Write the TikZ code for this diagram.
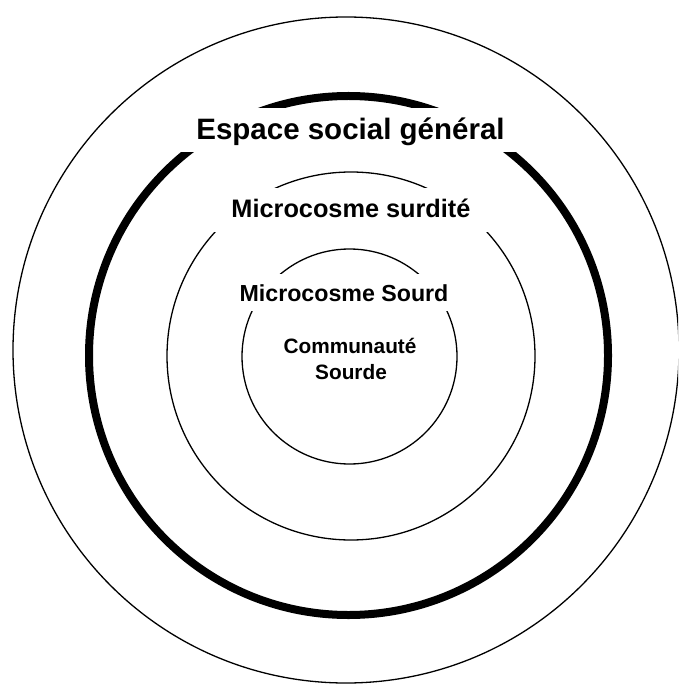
\documentclass[tikz,border=0pt]{standalone}
\usepackage{fontspec}
\setmainfont{Liberation Sans}
\begin{document}
\begin{tikzpicture}[x=1pt,y=-1pt,
  thinring/.style={draw=black,line width=1.3pt},
  thickring/.style={draw=black,line width=8pt},
  lbl/.style={font=\bfseries,inner ysep=0pt,anchor=base,text=black},
  boxed/.style={lbl,fill=white}]
\useasboundingbox (0,0) rectangle (678,684);
\clip (0,0) rectangle (678,684);
\draw[thinring] (346,350) circle[radius=333pt];
\draw[thickring] (348.5,355.5) circle[radius=259.5pt];
\draw[thinring] (351,356) circle[radius=184pt];
\draw[thinring] (349.5,356.5) circle[radius=107.5pt];
\node[boxed,font=\bfseries\fontsize{29.5}{30}\selectfont,text height=32pt,text depth=12pt,inner xsep=16pt] (esp) at (350.5,140) {Espace social général};
\node[boxed,font=\bfseries\fontsize{25.3}{26}\selectfont,text height=29.3pt,text depth=14.7pt,inner xsep=18pt] (surd) at (351,217.3) {Microcosme surdité};
\node[boxed,font=\bfseries\fontsize{23.2}{24}\selectfont,text height=27pt,text depth=10pt,inner xsep=10pt] (sourd) at (344,301) {Microcosme Sourd};
\node[lbl,font=\bfseries\fontsize{20.8}{21}\selectfont] (comm) at (350,353) {Communauté};
\node[lbl,font=\bfseries\fontsize{20.8}{21}\selectfont] (sde) at (351,379) {Sourde};
\end{tikzpicture}
\end{document}
